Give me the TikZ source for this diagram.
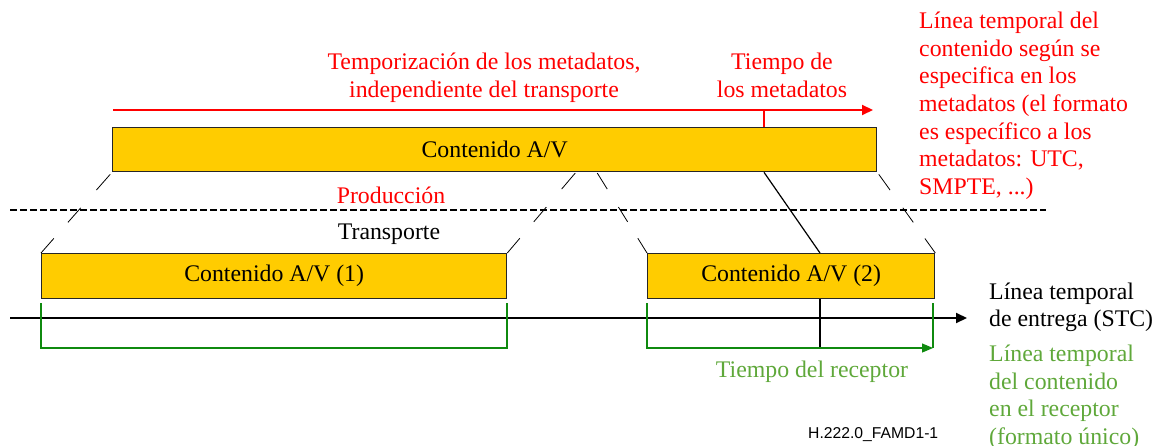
\documentclass[tikz,border=0pt]{standalone}
\usepackage{fontspec}
\setmainfont{Liberation Serif}
\newfontfamily\codefont{Liberation Sans}
\usetikzlibrary{calc,arrows.meta}
\definecolor{avgold}{HTML}{FFCC00}
\definecolor{rcvgreen}{HTML}{5FA83A}
\definecolor{linegreen}{HTML}{0F8A0F}
\definecolor{metared}{HTML}{FF0000}
\newcommand\projline[2]{%
  \draw[projseg] ($(#1)!.025!(#2)$) -- ($(#1)!.22!(#2)$)
                 ($(#1)!.44!(#2)$) -- ($(#1)!.62!(#2)$)
                 ($(#1)!.82!(#2)$) -- (#2);}
\begin{document}
\begin{tikzpicture}[x=1pt,y=-1pt,
  txt/.style={font=\fontsize{23.8pt}{27.6pt}\selectfont, inner sep=0pt},
  avbox/.style={draw=black!85, fill=avgold, line width=1.3pt, inner sep=0pt,
                anchor=north west, font=\fontsize{23.8pt}{27.6pt}\selectfont},
  projseg/.style={black, line width=0.8pt},
  redarrow/.style={metared, line width=2pt, -{Triangle[length=11pt,width=10pt]}},
  timeline/.style={black, line width=2pt, -{Triangle[length=11pt,width=10pt]}},
  greenline/.style={linegreen, line width=1.2pt},
  sep/.style={black, line width=1.5pt, dash pattern=on 6.5pt off 3.5pt}]
\useasboundingbox (0,0) rectangle (1158,446);

% boxes
\node[avbox, minimum width=764pt, minimum height=44pt] (main) at (112,127) {Contenido A/V};
\node[avbox, minimum width=465pt, minimum height=45pt] (b1) at (41,253) {Contenido A/V (1)};
\node[avbox, minimum width=287pt, minimum height=45pt] (b2) at (647,253) {Contenido A/V (2)};

% red metadata timeline
\coordinate (ra0) at (113,110);
\coordinate (ra1) at (873,110);
\coordinate (mt) at (764,110);
\draw[redarrow] (ra0) -- (ra1);
\draw[metared, line width=1.5pt] (mt) -- (mt |- main.north);

% separator
\coordinate (s0) at (10,210);
\coordinate (s1) at (1046,210);
\draw[sep] (s0) -- (s1);

% projection lines
\coordinate (p2) at (577,171);
\coordinate (p3) at (596,171);
\projline{main.south west}{b1.north west}
\projline{p2}{b1.north east}
\projline{p3}{b2.north west}
\projline{main.south east}{b2.north east}

% delivery timeline
\coordinate (t0) at (10,318);
\coordinate (t1) at (967,318);
\draw[timeline] (t0) -- (t1);

% receiver point
\coordinate (rcv) at (820,348);
\draw[black, line width=1.2pt] (mt |- main.south) -- (rcv |- b2.north);
\draw[black, line width=1.5pt] (rcv |- b2.south) -- (rcv);

% green brackets
\coordinate (g1a) at (41,303);
\coordinate (g1b) at (41,348);
\coordinate (g1c) at (507,348);
\coordinate (g1d) at (507,303);
\draw[greenline] (g1a) -- (g1b) -- (g1c) -- (g1d);
\coordinate (g2a) at (647,303);
\coordinate (g2b) at (647,348);
\coordinate (g2c) at (933,348);
\coordinate (g2d) at (933,303);
\draw[greenline, -{Triangle[length=11pt,width=9pt]}] (g2a) -- (g2b) -- (g2c);
\draw[greenline] (g2d) -- (g2c);

% texts (base anchor = baseline of the last line)
\node[txt, metared, anchor=base, align=center] (tmeta) at (484,97.1)
  {Temporización de los metadatos,\\independiente del transporte};
\node[txt, metared, anchor=base, align=center] (tiempo) at (782,97.1)
  {Tiempo de\\los metadatos};
\node[txt, metared, anchor=base west, align=left] (rnote) at (919,194.3)
  {Línea temporal del\\contenido según se\\especifica en los\\metadatos (el formato\\es específico a los\\metadatos: UTC,\\SMPTE, ...)};
\node[txt, metared, anchor=base] (prod) at (391,203.5) {Producción};
\node[txt, black, anchor=base] (trans) at (389,239.5) {Transporte};
\node[txt, black, anchor=base west, align=left] (stc) at (989,326.8)
  {Línea temporal\\de entrega (STC)};
\node[txt, rcvgreen, anchor=base west, align=left] (gnote) at (989,444.3)
  {Línea temporal\\del contenido\\en el receptor\\(formato único)};
\node[txt, rcvgreen, anchor=base] (trcv) at (812,377.5) {Tiempo del receptor};
\node[font=\codefont\fontsize{15.7pt}{18pt}\selectfont, inner sep=0pt, anchor=base west] (code) at (808,438.5) {H.222.0\_FAMD1-1};
\end{tikzpicture}
\end{document}
